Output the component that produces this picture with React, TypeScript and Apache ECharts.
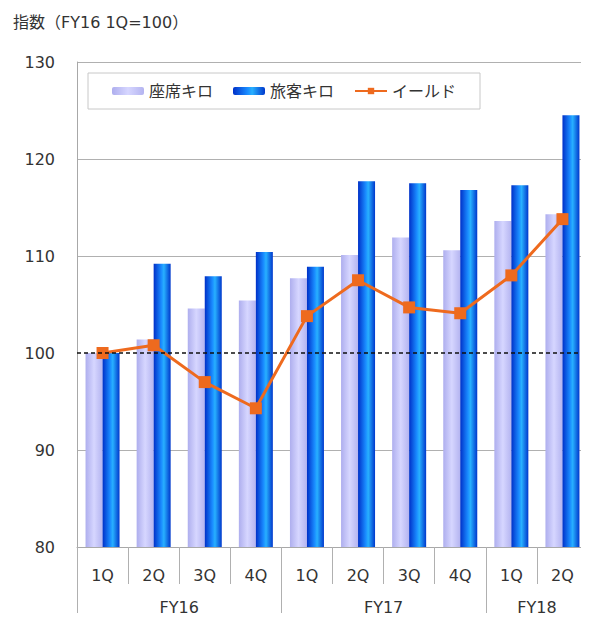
import React, { useEffect, useRef } from "react";
import * as echarts from "echarts";

const categories = ["1Q", "2Q", "3Q", "4Q", "1Q", "2Q", "3Q", "4Q", "1Q", "2Q"];
const groups = ["FY16", "FY17", "FY18"];
const groupCenters = [2, 6, 9];
const groupBounds = [0, 4, 8, 10];
const seatKm = [100, 101.4, 104.6, 105.4, 107.7, 110.1, 111.9, 110.6, 113.6, 114.3];
const passengerKm = [100, 109.2, 107.9, 110.4, 108.9, 117.7, 117.5, 116.8, 117.3, 124.5];
const yieldIdx = [100, 100.8, 97.0, 94.3, 103.8, 107.5, 104.7, 104.1, 108.0, 113.8];
const yTicks = [80, 90, 100, 110, 120, 130];

const FONT = "'DejaVu Sans', 'Noto Sans CJK JP', sans-serif";

export default function App() {
  const ref = useRef<HTMLDivElement>(null);
  useEffect(() => {
    if (!ref.current) return;
    const chart = echarts.init(ref.current, undefined, { renderer: "svg" });
    const lightGrad = new echarts.graphic.LinearGradient(0, 0, 1, 0, [
      { offset: 0, color: "#aeaeee" },
      { offset: 0.5, color: "#d6d6ff" },
      { offset: 1, color: "#b4b4f0" },
    ]);
    const darkGrad = new echarts.graphic.LinearGradient(0, 0, 1, 0, [
      { offset: 0, color: "#0030c8" },
      { offset: 0.45, color: "#1a8cff" },
      { offset: 0.6, color: "#28b0ff" },
      { offset: 1, color: "#0038cc" },
    ]);
    chart.setOption({
      animation: false,
      title: {
        text: "指数（FY16 1Q=100）",
        left: 8,
        top: 9,
        textStyle: { fontFamily: FONT, fontSize: 16, fontWeight: "normal", color: "#333" },
      },
      legend: {
        left: 88,
        top: 73,
        width: 395,
        backgroundColor: "#fff",
        borderColor: "#c8c8c8",
        borderWidth: 1,
        padding: [10, 24, 10, 24],
        itemWidth: 32,
        itemHeight: 8,
        itemGap: 20,
        textStyle: { fontFamily: FONT, fontSize: 16, color: "#333" },
        data: ["座席キロ", "旅客キロ", "イールド"],
      },
      grid: { left: 77, right: 1, top: 62, bottom: 74 },
      xAxis: [
        {
          type: "category",
          data: categories,
          boundaryGap: true,
          axisLine: { show: true, lineStyle: { color: "#a8a8a8" } },
          axisTick: { show: true, interval: 0, length: 37, lineStyle: { color: "#b0b0b0" } },
          axisLabel: { interval: 0, margin: 20, fontFamily: FONT, fontSize: 16, color: "#333" },
        },
        {
          type: "value",
          position: "bottom",
          min: 0,
          max: 10,
          axisLine: { show: false },
          splitLine: { show: false },
          axisTick: { show: true, customValues: groupBounds, length: 74, lineStyle: { color: "#b0b0b0" } },
          axisLabel: {
            customValues: groupCenters,
            margin: 52,
            fontFamily: FONT,
            fontSize: 16,
            color: "#333",
            formatter: (v: number) => groups[groupCenters.indexOf(v)] ?? "",
          },
        },
      ],
      yAxis: {
        type: "value",
        min: 80,
        max: 130,
        interval: 10,
        axisLine: { show: true, lineStyle: { color: "#a8a8a8" } },
        axisTick: { show: false },
        axisLabel: { margin: 22, fontFamily: FONT, fontSize: 16, color: "#333" },
        splitLine: {
          show: true,
          lineStyle: {
            color: yTicks.map((t) => (t === 100 ? "rgba(0,0,0,0)" : "#b0b0b0")),
            width: 1,
          },
        },
      },
      series: [
        {
          name: "base",
          type: "line",
          data: [],
          z: 1,
          markLine: {
            silent: true,
            symbol: "none",
            label: { show: false },
            lineStyle: { color: "#111", type: [4, 3], width: 1.5 },
            data: [{ yAxis: 100 }],
          },
        },
        {
          name: "座席キロ",
          type: "bar",
          data: seatKm,
          barWidth: 17,
          barGap: "0%",
          z: 2,
          itemStyle: { color: lightGrad },
        },
        {
          name: "旅客キロ",
          type: "bar",
          data: passengerKm,
          barWidth: 17,
          barGap: "0%",
          z: 2,
          itemStyle: { color: darkGrad },
        },
        {
          name: "イールド",
          type: "line",
          data: yieldIdx,
          z: 3,
          symbol: "rect",
          symbolSize: 12,
          lineStyle: { color: "#ee6a1e", width: 3 },
          itemStyle: { color: "#ee6a1e" },
        },
      ],
    });
    return () => chart.dispose();
  }, []);
  return <div ref={ref} style={{ width: 589, height: 621, margin: -8 }} />;
}
